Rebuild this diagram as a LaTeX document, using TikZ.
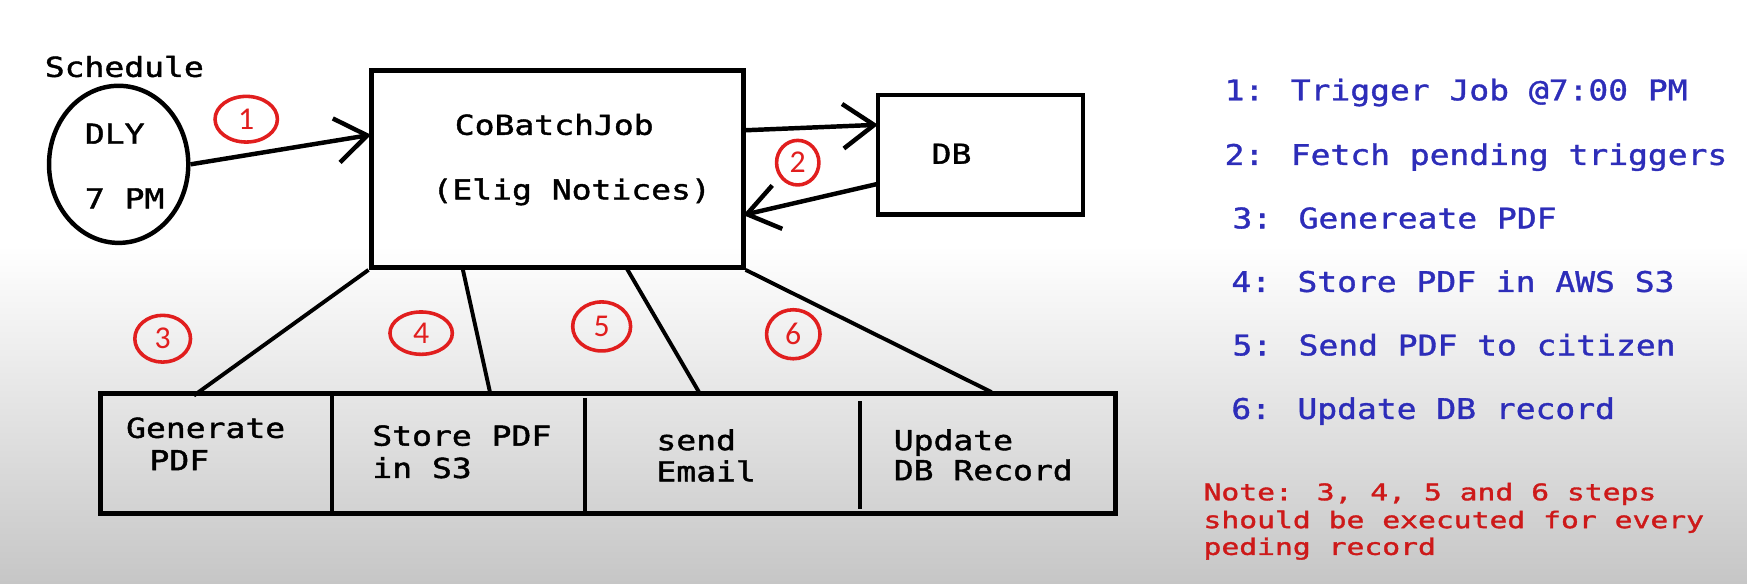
\documentclass[tikz,border=0pt]{standalone}
\usepackage{fontspec}
\usetikzlibrary{arrows.meta,shapes.geometric,calc}
\newfontfamily\lmono[FakeStretch=1.2,FakeBold=1.5]{DejaVu Sans Mono}
\newfontfamily\bmono[FakeStretch=1.16,FakeBold=1.2]{DejaVu Sans Mono}
\newfontfamily\nmono[FakeStretch=1.3,FakeBold=1.5]{DejaVu Sans Mono}
\newfontfamily\numfont{Carlito}
\definecolor{listblue}{RGB}{45,45,185}
\definecolor{notered}{RGB}{205,25,25}
\definecolor{circred}{RGB}{225,30,30}
\definecolor{bggray}{RGB}{198,198,198}
\begin{document}
\begin{tikzpicture}[x=1pt,y=-1pt,
  lbl/.style={anchor=base west,inner sep=0pt,font=\lmono\fontsize{24.7}{29}\selectfont},
  lst/.style={anchor=base west,inner sep=0pt,text=listblue,font=\bmono\fontsize{25.5}{30}\selectfont},
  nte/.style={anchor=base west,inner sep=0pt,text=notered,font=\nmono\fontsize{20.5}{25}\selectfont},
  circ/.style={ellipse,draw=circred,line width=3.2pt,inner sep=0pt,text=circred,font=\numfont\fontsize{28.5}{30}\selectfont},
  blk/.style={draw=black,line width=4.5pt,inner sep=0pt},
  arr/.style={line width=4pt,-{Straight Barb[length=28pt,width=40pt,line width=4pt]}},
  con/.style={line width=3.5pt}
]
\useasboundingbox (0,0) rectangle (1568,524);
\fill[white] (0,0) rectangle (1568,524);
\shade[top color=white,bottom color=bggray] (0,220) rectangle (1568,524);

% schedule
\node[lbl] (schedlbl) at (40,69) {Schedule};
\node[blk,ellipse,line width=4pt,minimum width=125pt,minimum height=141pt] (sched) at (106.5,147.5) {};
\node[lbl] (dly) at (76,129) {DLY};
\node[lbl] (pm) at (76,187) {7 PM};

% job box
\node[blk,rectangle,minimum width=334pt,minimum height=177pt] (job) at (500,151.5) {};
\node[lbl] (jobt1) at (408,121) {CoBatchJob};
\node[lbl] (jobt2) at (388,179) {(Elig Notices)};

% db box
\node[blk,rectangle,line width=4pt,minimum width=184pt,minimum height=107pt] (db) at (880,139) {};
\node[lbl] (dbt) at (836,147) {DB};

% arrows
\coordinate (a1e) at (333,121);
\draw[arr] (sched.east) -- (a1e);
\coordinate (a2s) at (667,117);
\coordinate (a2e) at (788,112);
\draw[arr] (a2s) -- (a2e);
\coordinate (a3s) at (788,165);
\coordinate (a3e) at (667,193);
\draw[arr] (a3s) -- (a3e);

% circled numbers
\node[circ,minimum width=56pt,minimum height=41pt] (c1) at (221,107) {1};
\node[circ,minimum width=38pt,minimum height=40pt] (c2) at (716,146) {2};
\node[circ,minimum width=50pt,minimum height=42pt] (c3) at (146,304) {3};
\node[circ,minimum width=56pt,minimum height=38pt] (c4) at (378,299) {4};
\node[circ,minimum width=52pt,minimum height=44pt] (c5) at (540,293) {5};
\node[circ,minimum width=48pt,minimum height=44pt] (c6) at (712,300) {6};

% table
\node[blk,rectangle,minimum width=911pt,minimum height=108pt] (table) at (545.5,407) {};
\draw[line width=4pt] (298,353) -- (298,461);
\draw[line width=4pt] (525,357) -- (525,461);
\draw[line width=4pt] (772,360) -- (772,457);
\node[lbl] (t1a) at (113,393) {Generate};
\node[lbl] (t1b) at (134,422) {PDF};
\node[lbl] (t2a) at (334,400) {Store PDF};
\node[lbl] (t2b) at (334,429) {in S3};
\node[lbl] (t3a) at (589,404) {send};
\node[lbl] (t3b) at (589,432) {Email};
\node[lbl] (t4a) at (802,404) {Update};
\node[lbl] (t4b) at (802,431) {DB Record};

% connectors
\coordinate (j4) at (415,240);
\coordinate (j5) at (562,240);
\coordinate (p3) at (174,355);
\coordinate (p4) at (440,353);
\coordinate (p5) at (628,353);
\coordinate (p6) at (890,352);
\draw[con] (job.south west) -- (p3);
\draw[con] (j4) -- (p4);
\draw[con] (j5) -- (p5);
\draw[con] (job.south east) -- (p6);

% list
\node[lst] (l1) at (1099,90) {1: Trigger Job @7:00 PM};
\node[lst] (l2) at (1099,148) {2: Fetch pending triggers};
\node[lst] (l3) at (1106,205) {3: Genereate PDF};
\node[lst] (l4) at (1105,262) {4: Store PDF in AWS S3};
\node[lst] (l5) at (1106,319) {5: Send PDF to citizen};
\node[lst] (l6) at (1105,376) {6: Update DB record};
\node[nte] (n1) at (1080,449) {Note: 3, 4, 5 and 6 steps};
\node[nte] (n2) at (1080,474) {should be executed for every};
\node[nte] (n3) at (1080,498) {peding record};
\end{tikzpicture}
\end{document}
